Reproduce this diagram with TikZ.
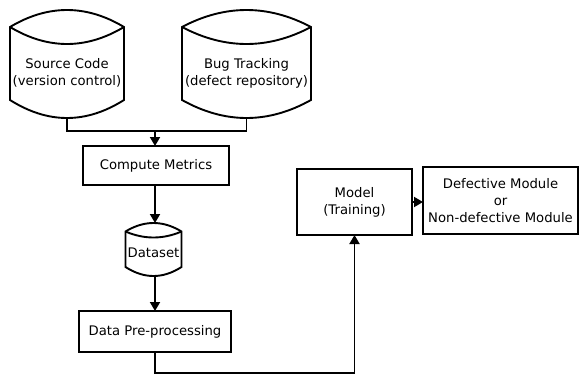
\documentclass[tikz,border=0pt]{standalone}
\usepackage{fontspec}
\setmainfont{DejaVu Sans}
\usetikzlibrary{arrows.meta,calc}
\newcommand\storage[8]{%
 \pgfmathsetmacro\sa{#2+(#3-#2)/3}%
 \pgfmathsetmacro\sb{#2+2*(#3-#2)/3}%
 \pgfmathsetmacro\cp{#5+4/3*(#4-#5)}%
 \pgfmathsetmacro\cd{#5+4/3*(#6-#5)}%
 \pgfmathsetmacro\cq{#7+4/3*(#8-#7)}%
 \draw[ln] (#2,#5) .. controls (\sa,\cp) and (\sb,\cp) .. (#3,#5) -- (#3,#7) .. controls (\sb,\cq) and (\sa,\cq) .. (#2,#7) -- cycle;
 \draw[ln] (#2,#5) .. controls (\sa,\cd) and (\sb,\cd) .. (#3,#5);
 \pgfmathsetmacro\cx{(#2+#3)/2}%
 \pgfmathsetmacro\cy{(#4+#8)/2}%
 \pgfmathsetmacro\ww{#3-#2}%
 \pgfmathsetmacro\hh{#8-#4}%
 \node[inner sep=0pt,outer sep=0pt,minimum width=\ww pt,minimum height=\hh pt] (#1) at (\cx,\cy) {};
}
\tikzset{
 ln/.style={line width=1.9pt, line join=miter},
 box/.style={draw, line width=1.9pt, inner sep=0pt, outer sep=0pt, align=center},
 txt/.style={inner sep=0pt, align=center},
 arr/.style={ln, -{Triangle[length=9pt,width=10pt]}},
 every node/.style={font=\fontsize{13.2}{17}\selectfont},
}
\begin{document}
\begin{tikzpicture}[x=1pt,y=-1pt]
\useasboundingbox (0,0) rectangle (580,375);
% storage shapes
\storage{src}{10}{124}{10}{27}{44}{100}{118}
\storage{bug}{182}{311}{10}{27}{44}{100}{118}
\storage{ds}{125.5}{181.5}{223}{231.5}{237.5}{267}{276}
\node[txt] (srct) at (67,73) {Source Code\\(version control)};
\node[txt] (bugt) at (246.5,73) {Bug Tracking\\(defect repository)};
\node[txt] (dst) at (153.5,253) {Dataset};
% boxes
\node[box, minimum width=146pt, minimum height=39pt] (cm) at (156,165.5) {Compute Metrics};
\node[box, minimum width=152pt, minimum height=41pt] (dp) at (155,331.5) {Data Pre-processing};
\node[box, minimum width=115pt, minimum height=66pt] (model) at (354.5,202) {Model\\(Training)};
\node[box, minimum width=155pt, minimum height=67pt] (def) at (500.5,200.5) {Defective Module\\or\\Non-defective Module};
% connectors
\coordinate (j) at (155,131);
\coordinate (lo) at (155,373);
\draw[ln] (src.south) |- (j) -| (bug.south);
\draw[arr] (j) -- (cm.north -| j);
\draw[arr] (cm.south -| j) -- (ds.north -| j);
\draw[arr] (ds.south -| j) -- (dp.north -| j);
\draw[arr] (dp.south -| lo) -- (lo) -| (model.south);
\draw[arr] (model.east) -- (model.east -| def.west);
\end{tikzpicture}
\end{document}
